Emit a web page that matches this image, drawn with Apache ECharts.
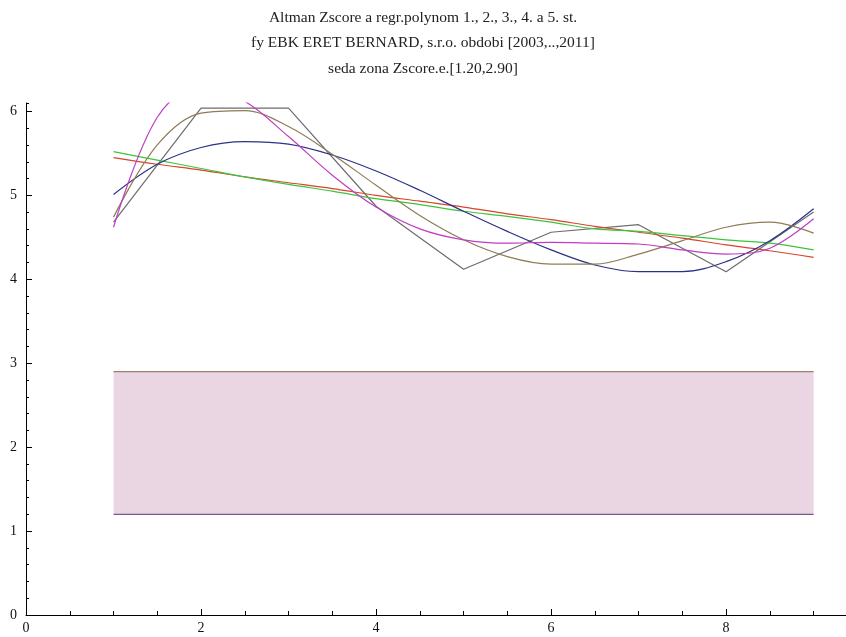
<!DOCTYPE html>
<html>
<head>
<meta charset="utf-8">
<script src="https://cdn.jsdelivr.net/npm/echarts@6/dist/echarts.min.js"></script>
<style>
html,body{margin:0;padding:0;background:#fff;}
#chart{width:846px;height:637px;}
</style>
</head>
<body>
<div id="chart"></div>
<script>
// Data points (years 2003..2011 mapped to 1..9)
const dataX = [1, 2, 3, 4, 5, 6, 7, 8, 9];
const dataY = [4.68, 6.04, 6.04, 4.87, 4.12, 4.56, 4.65, 4.09, 4.80];

// Regression curves read at x = 1, 1.5, ..., 9
const curveX = [1, 1.5, 2, 2.5, 3, 3.5, 4, 4.5, 5, 5.5, 6, 6.5, 7, 7.5, 8, 8.5, 9];
const poly1 = [5.45, 5.37, 5.30, 5.22, 5.15, 5.08, 5.00, 4.93, 4.86, 4.78, 4.71, 4.63, 4.56, 4.49, 4.41, 4.34, 4.26];
const poly2 = [5.52, 5.42, 5.32, 5.22, 5.13, 5.05, 4.96, 4.89, 4.81, 4.75, 4.68, 4.60, 4.57, 4.52, 4.47, 4.43, 4.35];
const poly3 = [5.01, 5.37, 5.57, 5.64, 5.61, 5.48, 5.29, 5.06, 4.81, 4.57, 4.35, 4.17, 4.09, 4.09, 4.21, 4.46, 4.84];
const poly4 = [4.74, 5.60, 5.98, 6.01, 5.82, 5.49, 5.12, 4.76, 4.47, 4.27, 4.18, 4.18, 4.30, 4.46, 4.62, 4.68, 4.55];
const poly5 = [4.62, 5.93, 6.30, 6.12, 5.70, 5.24, 4.86, 4.60, 4.47, 4.43, 4.44, 4.43, 4.42, 4.35, 4.30, 4.37, 4.72];

// Grey zone of Zscore
const zoneX = [1, 9];
const zoneY = [1.20, 2.90];

const titleLines = [
  'Altman Zscore a regr.polynom 1., 2., 3., 4. a 5. st.',
  'fy EBK ERET BERNARD, s.r.o. obdobi [2003,..,2011]',
  'seda zona Zscore.e.[1.20,2.90]'
];

const xTickLabels = [0, 2, 4, 6, 8];
const yTickLabels = [0, 1, 2, 3, 4, 5, 6];

function pairs(xs, ys) { return xs.map((x, i) => [x, ys[i]]); }

const serif = 'Liberation Serif';
const chart = echarts.init(document.getElementById('chart'));

const baseX = {
  type: 'value', min: 0, max: 9.37, position: 'bottom', offset: 0,
  axisLine: { onZero: false, lineStyle: { color: '#000', width: 1 } },
  splitLine: { show: false }
};
const baseY = {
  type: 'value', min: 0, max: 6.1, position: 'left', offset: 0,
  axisLine: { onZero: false, lineStyle: { color: '#000', width: 1 } },
  splitLine: { show: false }
};

function lineSeries(ys, color, width) {
  return {
    type: 'line', data: pairs(curveX, ys), smooth: 0.35, showSymbol: false,
    symbol: 'none', lineStyle: { color: color, width: width || 1.2 }, clip: true, z: 3
  };
}

chart.setOption({
  animation: false,
  backgroundColor: '#fff',
  title: {
    text: titleLines.join('\n'), left: 'center', top: 0,
    textStyle: { fontFamily: serif, fontSize: 15.5, fontWeight: 'normal', color: '#222', lineHeight: 25.5 }
  },
  grid: { left: 26, right: 0, top: 103, bottom: 22, containLabel: false },
  xAxis: [
    Object.assign({}, baseX, {
      interval: 0.5,
      axisTick: { inside: true, length: 4, lineStyle: { color: '#000' } },
      axisLabel: { show: false }
    }),
    Object.assign({}, baseX, {
      interval: 2,
      axisLine: { show: false, onZero: false },
      axisTick: { inside: true, length: 6, lineStyle: { color: '#000' } },
      axisLabel: {
        showMaxLabel: false, margin: 6,
        fontFamily: serif, fontSize: 14, color: '#111',
        formatter: v => (xTickLabels.indexOf(v) >= 0 ? String(v) : '')
      }
    })
  ],
  yAxis: [
    Object.assign({}, baseY, {
      interval: 0.2,
      axisTick: { inside: true, length: 3, lineStyle: { color: '#000' } },
      axisLabel: { show: false }
    }),
    Object.assign({}, baseY, {
      interval: 1,
      axisLine: { show: false, onZero: false },
      axisTick: { inside: true, length: 6, lineStyle: { color: '#000' } },
      axisLabel: {
        showMaxLabel: false, margin: 9,
        fontFamily: serif, fontSize: 14, color: '#111',
        formatter: v => (yTickLabels.indexOf(v) >= 0 ? String(v) : '')
      }
    })
  ],
  series: [
    {
      type: 'line', data: pairs(zoneX, [zoneY[1], zoneY[1]]), showSymbol: false, symbol: 'none',
      lineStyle: { color: '#9c8070', width: 1.3 }, z: 2,
      markArea: {
        silent: true,
        itemStyle: { color: '#ead6e2', borderWidth: 0 },
        data: [[{ coord: [zoneX[0], zoneY[0]] }, { coord: [zoneX[1], zoneY[1]] }]]
      }
    },
    {
      type: 'line', data: pairs(zoneX, [zoneY[0], zoneY[0]]), showSymbol: false, symbol: 'none',
      lineStyle: { color: '#7e5888', width: 1.3 }, z: 2
    },
    {
      type: 'line', data: pairs(dataX, dataY), showSymbol: false, symbol: 'none',
      lineStyle: { color: '#6c6c70', width: 1.2 }, z: 3
    },
    lineSeries(poly1, '#d8442c'),
    lineSeries(poly2, '#3cc43c'),
    lineSeries(poly3, '#2a3286'),
    lineSeries(poly4, '#8e7c56'),
    lineSeries(poly5, '#c03cc4')
  ]
});
</script>
</body>
</html>
